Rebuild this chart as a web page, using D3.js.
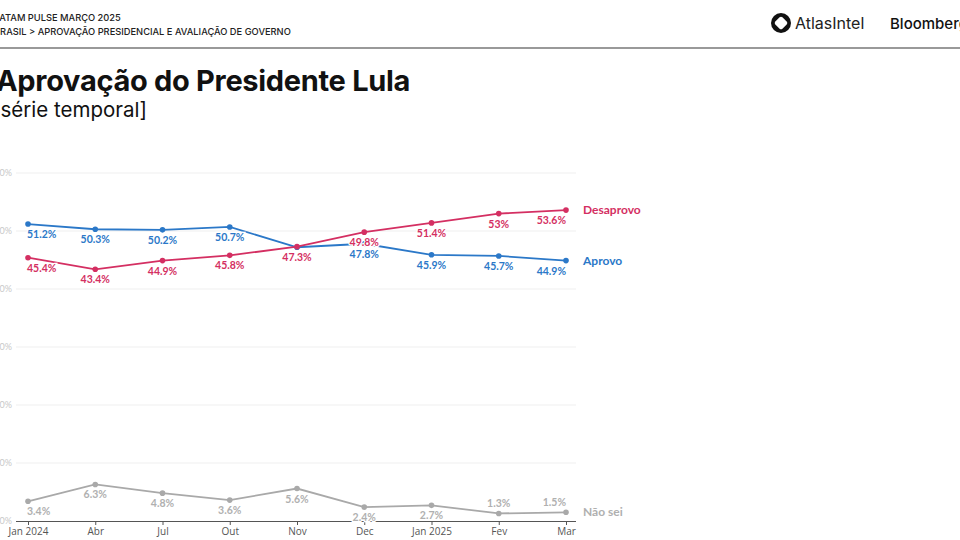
<!DOCTYPE html>
<html><head><meta charset="utf-8">
<script src="https://cdn.jsdelivr.net/npm/d3@7"></script>
<style>
html,body{margin:0;padding:0;background:#fff;overflow:hidden}
svg{display:block}
</style></head>
<body><svg id="c" width="960" height="540"></svg>
<script>
const months = ["Jan 2024","Abr","Jul","Out","Nov","Dec","Jan 2025","Fev","Mar"];
const aprovo = [51.2, 50.3, 50.2, 50.7, 47.2, 47.8, 45.9, 45.7, 44.9];
const desaprovo = [45.4, 43.4, 44.9, 45.8, 47.3, 49.8, 51.4, 53.0, 53.6];
const naoSei = [3.4, 6.3, 4.8, 3.6, 5.6, 2.4, 2.7, 1.3, 1.5];
const yTicks = [0, 10, 20, 30, 40, 50, 60];
const aprovoLabels = ["51.2%","50.3%","50.2%","50.7%","","47.8%","45.9%","45.7%","44.9%"];
const desaprovoLabels = ["45.4%","43.4%","44.9%","45.8%","47.3%","49.8%","51.4%","53%","53.6%"];
const naoSeiLabels = ["3.4%","6.3%","4.8%","3.6%","5.6%","2.4%","2.7%","1.3%","1.5%"];
const naoSeiAbove = [false,false,false,false,false,false,false,true,true];

const svg = d3.select("#c");
const FONT = "Lato, 'Open Sans', sans-serif";

// header
svg.append("text").attr("x",-6).attr("y",21).text("LATAM PULSE MARÇO 2025")
  .attr("font-family","Inter, sans-serif").attr("font-size",9.3).attr("font-weight",500).attr("fill","#222");
svg.append("text").attr("x",-6).attr("y",35).text("BRASIL > APROVAÇÃO PRESIDENCIAL E AVALIAÇÃO DE GOVERNO")
  .attr("font-family","Inter, sans-serif").attr("font-size",9.3).attr("font-weight",500).attr("fill","#222");
svg.append("line").attr("x1",0).attr("x2",960).attr("y1",48).attr("y2",48).attr("stroke","#777").attr("stroke-width",1.5);

// logo
const lg = svg.append("g").attr("transform","translate(781,23)");
lg.append("circle").attr("r",10).attr("fill","#111");
lg.append("rect").attr("x",-5).attr("y",-5).attr("width",10).attr("height",10).attr("rx",2)
  .attr("fill","#fff").attr("transform","rotate(45)");
svg.append("text").attr("x",795).attr("y",29).text("AtlasIntel")
  .attr("font-family","Inter, sans-serif").attr("font-size",16).attr("fill","#222");
svg.append("text").attr("x",890).attr("y",29).text("Bloomberg")
  .attr("font-family","Inter, sans-serif").attr("font-size",15).attr("font-weight",500).attr("fill","#111");

// title
svg.append("text").attr("x",-4).attr("y",91).text("Aprovação do Presidente Lula")
  .attr("font-family","Inter, sans-serif").attr("font-size",29).attr("font-weight",700).attr("fill","#111")
  .attr("letter-spacing","-0.3");
svg.append("text").attr("x",-7).attr("y",117).text("[série temporal]")
  .attr("font-family","Inter, sans-serif").attr("font-size",20.5).attr("font-weight",400).attr("fill","#111");

// scales
const x = d3.scalePoint().domain(months).range([28, 566]);
const y = d3.scaleLinear().domain([0, 60]).range([521, 173]);

// grid
const grid = svg.append("g");
grid.selectAll("line").data(yTicks.filter(d=>d>0)).join("line")
  .attr("x1",16).attr("x2",576).attr("y1",d=>y(d)).attr("y2",d=>y(d))
  .attr("stroke","#efefef").attr("stroke-width",1);

// y axis labels
const yAxis = d3.axisLeft(y).tickValues(yTicks).tickFormat(d=>d+"%").tickSize(0).tickPadding(2);
const yg = svg.append("g").attr("transform","translate(14,0)").call(yAxis);
yg.select(".domain").remove();
yg.selectAll("text").attr("font-family",FONT).attr("font-size",9).attr("fill","#c8c8c8");

// x axis
const xAxis = d3.axisBottom(x).tickSizeOuter(0).tickSize(4).tickPadding(3);
const xg = svg.append("g").attr("transform","translate(0,521)").call(xAxis);
xg.select(".domain").attr("d","M16,0.5H576").attr("stroke","#555").attr("stroke-width",1.2);
xg.selectAll(".tick line").attr("stroke","#555");
xg.selectAll("text").attr("font-family","'Source Sans Pro', 'Open Sans', sans-serif").attr("font-size",10).attr("fill","#555");

const series = [
  {name:"Não sei", vals:naoSei, labels:naoSeiLabels, color:"#a9a9a9", above:naoSeiAbove, endDy:4, lblColor:"#b0b0b0"},
  {name:"Aprovo", vals:aprovo, labels:aprovoLabels, color:"#2b78c8", above:null, endDy:4, lblColor:"#2b78c8"},
  {name:"Desaprovo", vals:desaprovo, labels:desaprovoLabels, color:"#d42f62", above:null, endDy:4, lblColor:"#d42f62"}
];

const line = d3.line().x((d,i)=>x(months[i])).y(d=>y(d));

series.forEach(s=>{
  const g = svg.append("g");
  g.append("path").datum(s.vals).attr("d",line).attr("fill","none")
    .attr("stroke",s.color).attr("stroke-width",1.8);
  g.selectAll("circle").data(s.vals).join("circle")
    .attr("cx",(d,i)=>x(months[i])).attr("cy",d=>y(d)).attr("r",2.8).attr("fill",s.color);
});

series.forEach(s=>{
  const g = svg.append("g");
  g.selectAll("text").data(s.vals).join("text")
    .attr("x",(d,i)=>x(months[i]))
    .attr("y",(d,i)=> (s.above && s.above[i]) ? y(d)-6 : y(d)+14)
    .attr("text-anchor",(d,i)=> i===0 ? "start" : (i===s.vals.length-1 ? "end" : "middle"))
    .attr("dx",(d,i)=> i===0 ? -1 : 0)
    .text((d,i)=>s.labels[i])
    .attr("font-family",FONT).attr("font-size",10.5).attr("font-weight",700)
    .attr("fill",s.lblColor)
    .attr("stroke","#fff").attr("stroke-width",2.5).attr("paint-order","stroke");
  g.append("text").attr("x",583).attr("y",y(s.vals[s.vals.length-1])+s.endDy)
    .text(s.name).attr("font-family",FONT).attr("font-size",12).attr("font-weight",700)
    .attr("fill",s.lblColor);
});
</script></body></html>
